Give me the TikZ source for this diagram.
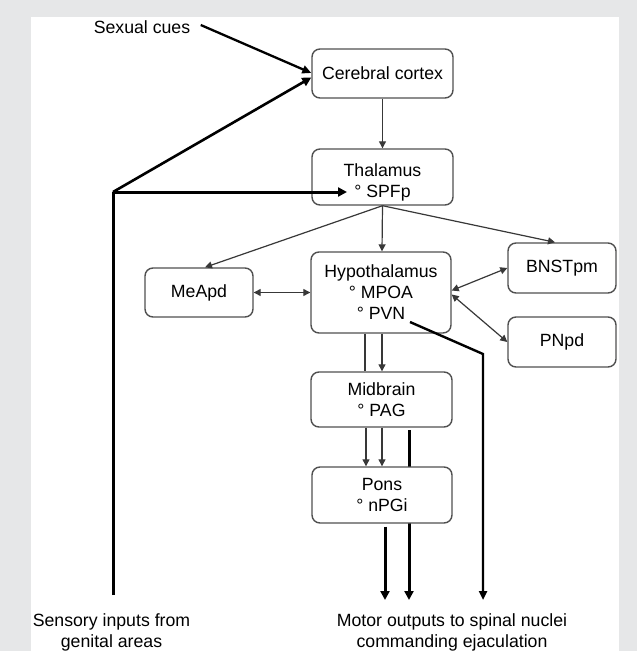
\documentclass[tikz,border=0pt]{standalone}
\usepackage{fontspec}
\setmainfont{Liberation Sans}
\usetikzlibrary{arrows.meta}
\definecolor{bggray}{HTML}{E6E7E8}
\definecolor{boxline}{HTML}{505050}
\definecolor{thinline}{HTML}{383838}
\begin{document}
\begin{tikzpicture}[x=1pt,y=-1pt,
  every node/.style={font=\fontsize{17.7}{21}\selectfont},
  region/.style={draw=boxline, line width=1.4pt, rounded corners=8pt, fill=white, align=center, inner sep=0pt},
  thinconn/.style={draw=thinline, line width=1.2pt},
  thinarrow/.style={thinconn, -{Triangle[length=7pt,width=7pt]}},
  thindouble/.style={thinconn, {Triangle[length=7pt,width=7pt]}-{Triangle[length=7pt,width=7pt]}},
  thickconn/.style={draw=black, line width=3pt},
  thickarrow/.style={thickconn, -{Triangle[length=9pt,width=9pt]}},
  cuearrow/.style={draw=black, line width=2.3pt, -{Triangle[length=9pt,width=8pt]}},
  pvnline/.style={draw=black, line width=2.4pt, -{Triangle[length=9pt,width=8pt]}}
]
\useasboundingbox (0,0) rectangle (637,651);
\fill[bggray] (0,0) rectangle (637,651);
\fill[white] (31,17) rectangle (619,651);

% coordinates for free ends
\coordinate (sj) at (113,192);
\coordinate (sb) at (113,595);
\coordinate (spfp) at (347,192);
\coordinate (pvn) at (410,322);
\coordinate (pvnbend) at (483,354);
\coordinate (o1) at (385,600);
\coordinate (o2) at (409,600);
\coordinate (o3) at (483,600);

% thick line passing behind Pons
\draw[thickconn] (409,430) -- (409,526);

% boxes
\node[region, minimum width=141pt, minimum height=49pt] (cortex) at (382.5,73.5) {Cerebral cortex};
\node[region, minimum width=141pt, minimum height=56pt] (thal) at (382.5,177) {};
\node[align=center, inner sep=0pt] (thaltext) at (382.5,182) {Thalamus\\° SPFp};
\node[region, minimum width=140pt, minimum height=81pt] (hypo) at (381,292.5) {Hypothalamus\\° MPOA\\° PVN};
\node[region, minimum width=108pt, minimum height=49pt] (meapd) at (199,292.5) {MeApd};
\node[region, minimum width=108pt, minimum height=50pt] (bnst) at (562,268) {BNSTpm};
\node[region, minimum width=108pt, minimum height=50pt] (pnpd) at (562,342) {PNpd};
\node[region, minimum width=141pt, minimum height=55pt] (mid) at (381.5,399.5) {Midbrain\\° PAG};
\node[region, minimum width=140pt, minimum height=56pt] (pons) at (382,495) {Pons\\° nPGi};

% free texts
\node (cues) at (142,27) {Sexual cues};
\node[align=center] (sens) at (111.5,632.5) {Sensory inputs from\\genital areas};
\node[align=center] (motor) at (452,632.5) {Motor outputs to spinal nuclei\\commanding ejaculation};

% inputs
\draw[cuearrow] ([xshift=7pt,yshift=2pt]cues.east) -- ([yshift=0.5pt]cortex.west);
\draw[thickconn] (sb) -- (sj);
\draw[thickarrow] (sj) -- (spfp);
\draw[thickarrow, line width=2.6pt] (sj) -- ([yshift=-4pt]cortex.west);

% cortex to thalamus
\draw[thinarrow] (cortex.south) -- (thal.north);

% fan from thalamus
\draw[thinarrow] (thal.south) -- ([xshift=6pt]meapd.north);
\draw[thinarrow] (thal.south) -- ([xshift=1pt]hypo.north);
\draw[thinarrow] (thal.south) -- ([xshift=-7pt]bnst.north);

% hypothalamus links
\draw[thindouble] (meapd.east) -- (hypo.west);
\draw[thindouble] ([yshift=2pt]hypo.east) -- (bnst.west);
\draw[thindouble] ([yshift=-2pt]hypo.east) -- (pnpd.west);

% hypothalamus to midbrain
\draw[thinconn] ([xshift=-16pt]hypo.south) -- ([xshift=-16.5pt]mid.north);
\draw[thinarrow] ([xshift=1pt]hypo.south) -- ([xshift=0.5pt]mid.north);

% midbrain to pons
\draw[thinarrow] ([xshift=-15.5pt]mid.south) -- ([xshift=-16pt]pons.north);
\draw[thinarrow] ([xshift=0.5pt]mid.south) -- (pons.north);

% motor outputs
\draw[thickarrow] ([xshift=27pt]pons.south) -- (o2);
\draw[thickarrow] ([xshift=3pt,yshift=-3pt]pons.south) -- (o1);
\draw[pvnline] (pvn) -- (pvnbend) -- (o3);
\end{tikzpicture}
\end{document}
